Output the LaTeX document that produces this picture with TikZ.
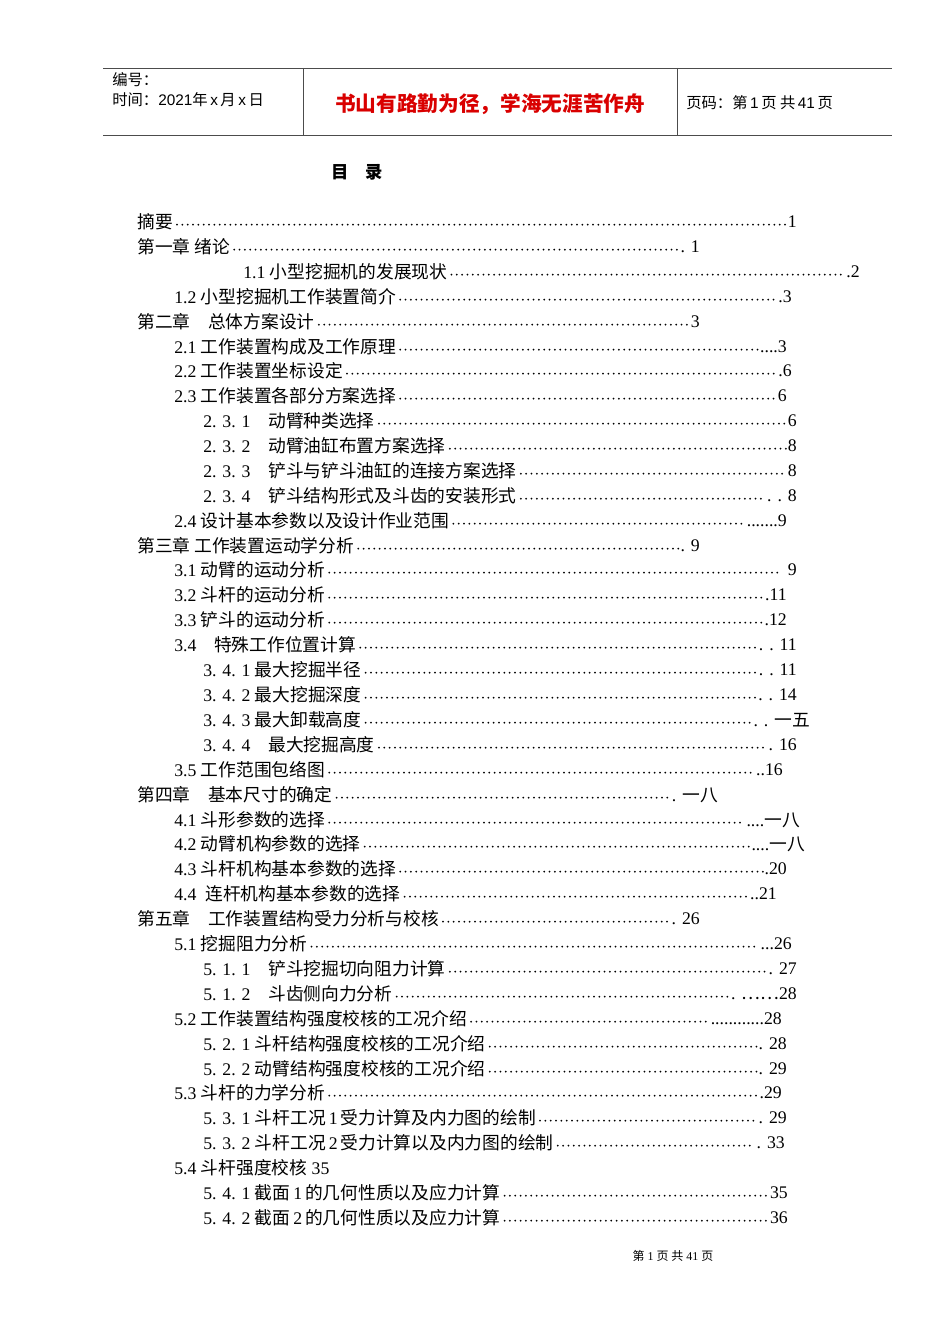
\documentclass[tikz,border=0pt]{standalone}
\usepackage{fontspec}
\setmainfont{Liberation Serif}
\newfontfamily\cjk{Noto Sans CJK SC}
\newfontfamily\hsans{Liberation Sans}
\tikzset{
  txt/.style={anchor=west,inner sep=0pt,font=\fontsize{13.3}{15}\selectfont},
  num/.style={anchor=east,inner sep=0pt,font=\fontsize{13.3}{15}\selectfont},
  lead/.style={line width=1.5pt,dash pattern=on 0pt off 4pt,line cap=round},
  rule/.style={line width=0.6pt,black!70}
}
\newcommand{\tocentry}[6]{%
  \node[txt] (#1) at (#2,#3) {#4};
  \node[num] (#1n) at (#5,#3) {#6};
  \draw[lead] ([xshift=3pt,yshift=-2pt]#1.east) -- ([xshift=-1pt,yshift=-2pt]#1n.west);
}
\begin{document}
\begin{tikzpicture}[x=0.75pt,y=-0.75pt]
\useasboundingbox (0,0) rectangle (950,1344);
\fill[white] (0,0) rectangle (950,1344);
% header
\coordinate (tl) at (103,68); \coordinate (tr) at (892,68);
\coordinate (bl) at (103,135); \coordinate (br) at (892,135);
\draw[rule] (tl) -- (tr); \draw[rule] (bl) -- (br);
\draw[rule] (303,68) -- (303,135); \draw[rule] (677,68) -- (677,135);
\node[anchor=west,inner sep=0pt,font=\fontsize{11.5}{13}\selectfont] (bh) at (112,80) {\cjk 编号：};
\node[anchor=west,inner sep=0pt,font=\fontsize{11.5}{13}\selectfont] (sj) at (112,100) {{\cjk 时间：}{\hsans 2021}{\cjk 年}\,{\hsans x}\,{\cjk 月}\,{\hsans x}\,{\cjk 日}};
\node[inner sep=0pt,text=red!85!black,font=\fontsize{15.5}{18}\selectfont\bfseries] (title) at (490,104) {\cjk 书山有路勤为径，学海无涯苦作舟};
\node[anchor=west,inner sep=0pt,font=\fontsize{11.5}{13}\selectfont] (ym) at (686,103) {{\cjk 页码：第}\,{\hsans 1}\,{\cjk 页\ 共}\,{\hsans 41}\,{\cjk 页}};
\node[inner sep=0pt,font=\fontsize{13}{15}\selectfont\bfseries] (ml) at (357,172) {\cjk 目\quad 录};
% entries
\tocentry{e1}{137}{222}{\cjk 摘要}{797}{1}
\tocentry{e2}{137}{247}{\cjk 第一章\ 绪论}{700}{. 1}
\tocentry{e3}{243}{272}{1.1 {\cjk 小型挖掘机的发展现状}}{860}{.2}
\tocentry{e4}{174}{297}{1.2 {\cjk 小型挖掘机工作装置简介}}{792}{.3}
\tocentry{e5}{137}{322}{\cjk 第二章\quad 总体方案设计}{700}{3}
\tocentry{e6}{174}{347}{2.1 {\cjk 工作装置构成及工作原理}}{787}{....3}
\tocentry{e7}{174}{371}{2.2 {\cjk 工作装置坐标设定}}{792}{.6}
\tocentry{e8}{174}{396}{2.3 {\cjk 工作装置各部分方案选择}}{787}{6}
\tocentry{e9}{203}{421}{2. 3. 1\quad {\cjk 动臂种类选择}}{797}{6}
\tocentry{e10}{203}{446}{2. 3. 2\quad {\cjk 动臂油缸布置方案选择}}{797}{8}
\tocentry{e11}{203}{471}{2. 3. 3\quad {\cjk 铲斗与铲斗油缸的连接方案选择}}{797}{8}
\tocentry{e12}{203}{496}{2. 3. 4\quad {\cjk 铲斗结构形式及斗齿的安装形式}}{797}{. . 8}
\tocentry{e13}{174}{521}{2.4\ {\cjk 设计基本参数以及设计作业范围}}{787}{.......9}
\tocentry{e14}{137}{546}{\cjk 第三章\ 工作装置运动学分析}{700}{. 9}
\tocentry{e15}{174}{570}{3.1 {\cjk 动臂的运动分析}}{797}{\ 9}
\tocentry{e16}{174}{595}{3.2\ {\cjk 斗杆的运动分析}}{787}{.11}
\tocentry{e17}{174}{620}{3.3\ {\cjk 铲斗的运动分析}}{787}{.12}
\tocentry{e18}{174}{645}{3.4\quad {\cjk 特殊工作位置计算}}{797}{. . 11}
\tocentry{e19}{203}{670}{3. 4. 1\ {\cjk 最大挖掘半径}}{797}{. . 11}
\tocentry{e20}{203}{695}{3. 4. 2\ {\cjk 最大挖掘深度}}{797}{. . 14}
\tocentry{e21}{203}{720}{3. 4. 3 {\cjk 最大卸载高度}}{810}{. . {\cjk 一五}}
\tocentry{e22}{203}{745}{3. 4. 4\quad {\cjk 最大挖掘高度}}{797}{. 16}
\tocentry{e23}{174}{770}{3.5\ {\cjk 工作范围包络图}}{783}{..16}
\tocentry{e24}{137}{795}{\cjk 第四章\quad 基本尺寸的确定}{718}{. {\cjk 一八}}
\tocentry{e25}{174}{820}{4.1\ {\cjk 斗形参数的选择}}{800}{....{\cjk 一八}}
\tocentry{e26}{174}{844}{4.2\ {\cjk 动臂机构参数的选择}}{805}{....{\cjk 一八}}
\tocentry{e27}{174}{869}{4.3\ {\cjk 斗杆机构基本参数的选择}}{787}{.20}
\tocentry{e28}{174}{894}{4.4\ \ {\cjk 连杆机构基本参数的选择}}{777}{..21}
\tocentry{e29}{137}{919}{\cjk 第五章\quad 工作装置结构受力分析与校核}{700}{. 26}
\tocentry{e30}{174}{944}{5.1 {\cjk 挖掘阻力分析}}{792}{...26}
\tocentry{e31}{203}{969}{5. 1. 1\quad {\cjk 铲斗挖掘切向阻力计算}}{797}{. 27}
\tocentry{e32}{203}{994}{5. 1. 2\quad {\cjk 斗齿侧向力分析}}{797}{. {\cjk ……}28}
\tocentry{e33}{174}{1019}{5.2\ {\cjk 工作装置结构强度校核的工况介绍}}{782}{............28}
\tocentry{e34}{203}{1044}{5. 2. 1\ {\cjk 斗杆结构强度校核的工况介绍}}{787}{. 28}
\tocentry{e35}{203}{1069}{5. 2. 2\ {\cjk 动臂结构强度校核的工况介绍}}{787}{. 29}
\tocentry{e36}{174}{1093}{5.3 {\cjk 斗杆的力学分析}}{782}{.29}
\tocentry{e37}{203}{1118}{5. 3. 1\ {\cjk 斗杆工况}\,1\,{\cjk 受力计算及内力图的绘制}}{787}{. 29}
\tocentry{e38}{203}{1143}{5. 3. 2\ {\cjk 斗杆工况}\,2\,{\cjk 受力计算以及内力图的绘制}}{785}{. 33}
\node[txt] (e39) at (174,1168) {5.4 {\cjk 斗杆强度校核} 35};
\tocentry{e40}{203}{1193}{5. 4. 1 {\cjk 截面}\,1\,{\cjk 的几何性质以及应力计算}}{788}{35}
\tocentry{e41}{203}{1218}{5. 4. 2\ {\cjk 截面}\,2\,{\cjk 的几何性质以及应力计算}}{788}{36}
\node[inner sep=0pt,font=\fontsize{9}{11}\selectfont] (ft) at (673,1256) {{\cjk 第} 1 {\cjk 页\ 共} 41 {\cjk 页}};
\end{tikzpicture}
\end{document}
